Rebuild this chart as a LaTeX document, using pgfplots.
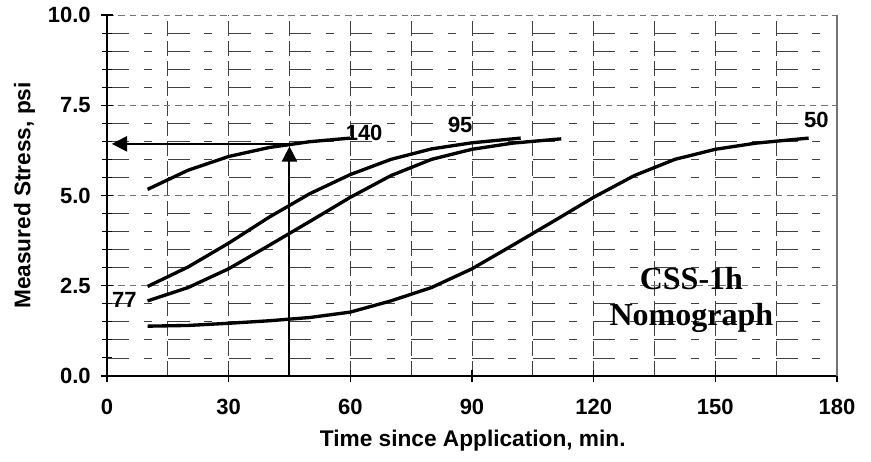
\documentclass[border=0pt]{standalone}
\usepackage{fontspec}
\setmainfont{Liberation Sans}
\newfontfamily\serifbold{Liberation Serif}
\usepackage{pgfplots}
\pgfplotsset{compat=1.18}
\usetikzlibrary{arrows.meta}
\newcommand{\ytl}[1]{#1\hspace*{4.25pt}}

\begin{document}
\begin{tikzpicture}
\begin{axis}[
    name=ax,
    scale only axis,
    width=547.5pt,
    height=270.75pt,
    xmin=0, xmax=180,
    ymin=0, ymax=10,
    axis x line*=bottom,
    axis y line*=left,
    axis line style={line width=1.1pt, black},
    xtick={0,30,...,180},
    ytick={0,2.5,5,7.5,10},
    yticklabels={\ytl{0.0},\ytl{2.5},\ytl{5.0},\ytl{7.5},\ytl{10.0}},
    minor x tick num=1,
    minor y tick num=4,
    tick align=center,
    major tick length=9pt,
    minor tick length=7pt,
    tick style={black, line width=0.8pt},
    minor x tick style={draw=none},
    grid=both,
    major x grid style={black!75, line width=0.6pt, dash pattern=on 11pt off 4pt},
    minor x grid style={black!75, line width=0.6pt, dash pattern=on 11pt off 4pt},
    major y grid style={black!55, line width=0.6pt, dash pattern=on 5pt off 3.5pt},
    minor y grid style={black!75, line width=0.6pt, dash pattern=on 16.5pt off 11pt on 6pt off 12.1pt},
    ticklabel style={font=\fontsize{16.5}{18}\selectfont\bfseries},
    xticklabel style={yshift=-9.5pt},
    /pgf/number format/assume math mode=true,
    xlabel={Time since Application, min.},
    ylabel={Measured Stress, psi},
    label style={font=\fontsize{17}{19}\selectfont\bfseries},
    xlabel style={at={(axis description cs:0.501,-0.18)}, anchor=center},
    ylabel style={at={(axis description cs:-0.113,0.5)}, anchor=center},
    clip=false,
]

% 140
\addplot[black, line width=2.5pt] coordinates {
    (10,5.17) (20,5.70) (30,6.08) (40,6.33) (50,6.49) (60,6.59)
};
% 95
\addplot[black, line width=2.5pt] coordinates {
    (10,2.48) (20,3.02) (30,3.68) (40,4.40) (50,5.05) (60,5.58) (70,6.00) (80,6.29) (90,6.46) (102,6.59)
};
% 77
\addplot[black, line width=2.5pt] coordinates {
    (10,2.08) (20,2.45) (30,2.97) (40,3.62) (50,4.28) (60,4.95) (70,5.55) (80,6.00) (90,6.28) (100,6.45) (112,6.57)
};
% 50
\addplot[black, line width=2.5pt] coordinates {
    (10,1.38) (20,1.40) (30,1.46) (40,1.53) (50,1.62) (60,1.77) (70,2.08) (80,2.45) (90,2.97)
    (100,3.62) (110,4.28) (120,4.95) (130,5.55) (140,6.00) (150,6.28) (160,6.45) (173,6.59)
};

% reading arrows
\addplot[black, line width=1.5pt, -{Triangle[length=11.5pt,width=11.5pt]}] coordinates {(45,6.43) (1.2,6.43)};
\addplot[black, line width=1.5pt, -{Triangle[length=11.5pt,width=11.5pt]}] coordinates {(45,0) (45,6.36)};

\draw[black!55, line width=0.8pt] (rel axis cs:1,0) -- (rel axis cs:1,1);

\node[font=\fontsize{16.5}{18}\selectfont\bfseries] at (axis cs:63.4,6.72) {140};
\node[font=\fontsize{16.5}{18}\selectfont\bfseries] at (axis cs:87.1,6.95) {95};
\node[font=\fontsize{16.5}{18}\selectfont\bfseries] at (axis cs:174.9,7.08) {50};
\node[font=\fontsize{16.5}{18}\selectfont\bfseries] at (axis cs:4.3,2.10) {77};
\node[font=\serifbold\fontsize{24}{27}\selectfont\bfseries, align=center] at (axis cs:144.1,2.10) {CSS-1h\\Nomograph};
\end{axis}
\path[use as bounding box] ([xshift=-80.25pt,yshift=-64.5pt]ax.south west) rectangle ([xshift=25.5pt,yshift=11.25pt]ax.north east);
\end{tikzpicture}
\end{document}
